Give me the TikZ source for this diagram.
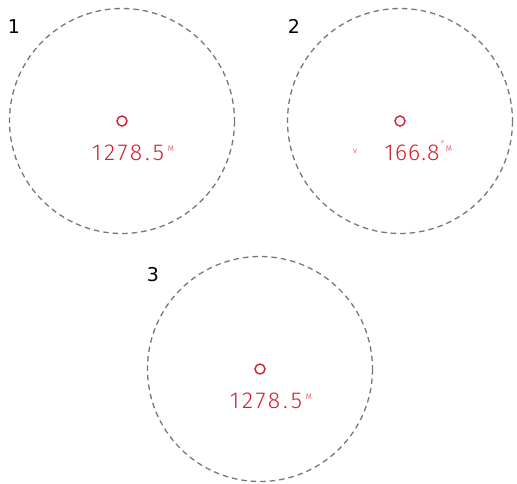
\documentclass[tikz,border=0pt]{standalone}
\usepackage{fontspec}
\setmainfont{DejaVu Sans}
\newfontfamily\segfont{Fira Sans}[UprightFont=* Light,LetterSpace=12]
\newfontfamily\segfontn{Fira Sans}[UprightFont=* Light,LetterSpace=5]
\newfontfamily\unitfont{Fira Sans}[UprightFont=* Light]
\definecolor{lcdred}{HTML}{D42030}
\definecolor{dashgray}{HTML}{777777}
\begin{document}
\begin{tikzpicture}[x=1pt,y=-1pt,
  scope/.style={draw=dashgray,line width=1.3pt,dash pattern=on 5.5pt off 4pt},
  target/.style={draw=lcdred,line width=1.4pt,circle,minimum size=10pt,inner sep=0pt},
  readout/.style={text=lcdred,font=\segfont\fontsize{23}{23}\selectfont,inner sep=0pt,anchor=base},
  readoutn/.style={text=lcdred,font=\segfontn\fontsize{23}{23}\selectfont,inner sep=0pt,anchor=base},
  unit/.style={text=lcdred,font=\unitfont\fontsize{8}{8}\selectfont,inner sep=0pt,anchor=base},
  num/.style={font=\fontsize{19}{19}\selectfont,inner sep=0pt,anchor=base}]
\useasboundingbox (0,0) rectangle (517,483);
% scope 1
\draw[scope] (122,121) circle (112.5);
\node[num] (l1) at (14,33) {1};
\node[target] (t1) at (122,121) {};
\node[readout] (r1) at (128,160) {1278.5};
\node[unit] (u1) at (171,151) {M};
% scope 2
\draw[scope] (400,121) circle (112.5);
\node[num] (l2) at (294,33) {2};
\node[target] (t2) at (400,121) {};
\node[unit] (v2) at (355,153) {v};
\node[readoutn] (r2) at (412,160) {166.8};
\node[unit] (d2) at (443,146) {°};
\node[unit] (u2) at (449,151) {M};
% scope 3
\draw[scope] (260,369) circle (112.5);
\node[num] (l3) at (153,281) {3};
\node[target] (t3) at (260,369) {};
\node[readout] (r3) at (266,408) {1278.5};
\node[unit] (u3) at (309,399) {M};
\end{tikzpicture}
\end{document}
